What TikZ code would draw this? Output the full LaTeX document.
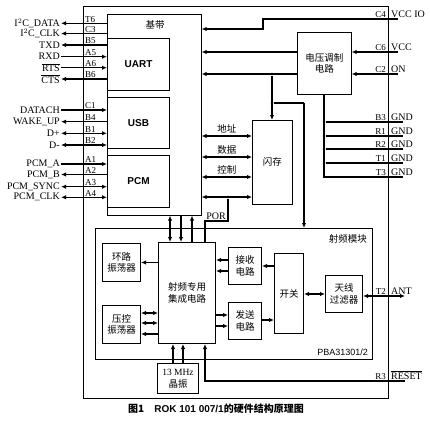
\documentclass[tikz,border=0pt]{standalone}
\usepackage{fontspec}
\setmainfont{Liberation Serif}
\setsansfont{Liberation Sans}
\newfontfamily\cjk{Noto Sans CJK SC}
\usetikzlibrary{arrows.meta}
\tikzset{
  blk/.style={draw,line width=1pt,inner sep=0pt},
  thinblk/.style={draw,line width=.6pt,inner sep=0pt},
  sig/.style={line width=1.1pt},
  pin/.style={font=\fontsize{9}{9}\selectfont,inner sep=1pt},
  lbl/.style={font=\fontsize{10}{10}\selectfont,inner sep=1pt},
  zh/.style={font=\cjk\fontsize{9.5}{11.5}\selectfont,align=center,inner sep=0pt},
  dot/.style={circle,fill,inner sep=0pt,minimum size=2.8pt},
  >={Latex[length=5pt,width=4.4pt]}
}
\newcommand{\ovl}[1]{$\overline{\mbox{#1}}$}
\begin{document}
\begin{tikzpicture}[x=1pt,y=-1pt]
\useasboundingbox (0,0) rectangle (430,420);
% outer module and baseband
\node[thinblk,minimum width=305pt,minimum height=392pt,anchor=north west] (mod) at (83,6) {};
\node[thinblk,minimum width=94pt,minimum height=201pt,anchor=north west] (bb) at (107,14) {};
\node[zh] (bbt) at (155,25) {基带};
\node[blk,minimum width=62pt,minimum height=52pt,anchor=north west,font=\sffamily\bfseries] (uart) at (107,38) {UART};
\node[blk,minimum width=62pt,minimum height=51pt,anchor=north west,font=\sffamily\bfseries] (usb) at (107,97) {USB};
\node[blk,minimum width=62pt,minimum height=52pt,anchor=north west,font=\sffamily\bfseries] (pcm) at (107,155) {PCM};
% left pins
\foreach \y/\nm/\pn/\dir/\i in {23.3/{I$^2$C\_DATA}/T6/<-/1, 33.5/{I$^2$C\_CLK}/C3/<-/2,
    45/TXD/B5/<-/3, 56.7/RXD/A5/->/4, 67.7/\ovl{RTS}/A6/->/5, 79/\ovl{CTS}/B6/<-/6,
    110/DATACH/C1/->/7, 121.7/WAKE\_UP/B4/<-/8, 133.3/D+/B1/<->/9, 145/D-/B2/<->/10,
    164/PCM\_A/A1/->/11, 174.5/PCM\_B/A2/<-/12, 186.7/PCM\_SYNC/A3/<->/13, 197.3/PCM\_CLK/A4/<->/14}{
  \node[lbl,anchor=east] (l\i) at (61,\y) {\nm};
  \node[pin,anchor=south west] (p\i) at (84,\y) {\pn};
  \draw[sig,\dir] (l\i.east) -- (bb.west |- l\i.east);
}
% voltage regulator
\node[thinblk,minimum width=54pt,minimum height=62pt,anchor=north west] (reg) at (297,32) {};
\node[zh] (regt) at (reg.center) {电压调制\\电路};
\coordinate (vccio) at (398,19);
\coordinate (vcc) at (398,52);
\coordinate (on) at (398,74);
\node[pin,anchor=south east] (pc4) at (387,19) {C4};
\node[lbl,anchor=south west] (lc4) at (390,19) {VCC IO};
\node[pin,anchor=south east] (pc6) at (387,52) {C6};
\node[lbl,anchor=south west] (lc6) at (390,52) {VCC};
\node[pin,anchor=south east] (pc2) at (387,74) {C2};
\node[lbl,anchor=south west] (lc2) at (390,74) {ON};
\draw[sig,<-] (bb.east |- 0,29) -| (263,19) -- (vccio);
\draw[sig,->] (vcc) -- (reg.east |- vcc);
\draw[sig,->] (on) -- (reg.east |- on);
\draw[sig,->] (reg.west |- vcc) -- (bb.east |- vcc);
\draw[sig,->] (reg.west |- on) -- (bb.east |- on);
% flash
\node[thinblk,minimum width=40pt,minimum height=84pt,anchor=north west] (fl) at (252,120) {};
\node[zh] (flt) at (fl.center) {闪存};
\node[dot] (d1) at (272,74) {};
\node[dot] (d2) at (272,103) {};
\draw[sig,->] (d1) -- (fl.north -| d1);
\draw[sig] (d2) -- (304,103) coordinate (rfp);
\foreach \y/\t in {136/地址, 157/数据, 177/控制, 197/{}}{
  \draw[sig,<->] (bb.east |- 0,\y) -- (fl.west |- 0,\y)
    node[zh,midway,above=2pt] {\t};
}
% ground
\coordinate (g0) at (324,94);
\foreach \y/\pn/\i in {122/B3/1, 136/R1/2, 149/R2/3, 163/T1/4, 177/T3/5}{
  \coordinate (gnd\i) at (403,\y);
  \node[pin,anchor=south east] (pg\i) at (387,\y) {\pn};
  \node[lbl,anchor=south west] (lg\i) at (390,\y) {GND};
}
\foreach \i/\y in {1/122,2/136,3/149,4/163}{
  \node[dot] (gd\i) at (324,\y) {};
  \draw[sig] (gd\i) -- (gnd\i);
}
\draw[sig] (g0) -- (324,177) -- (gnd5);
% RF module
\node[blk,line width=1.3pt,minimum width=277pt,minimum height=131pt,anchor=north west] (rf) at (95,228) {};
\node[zh,anchor=north east] (rft) at (367,234) {射频模块};
\node[font=\sffamily\fontsize{9}{9}\selectfont,anchor=south east,inner sep=0pt] (pba) at (368,356) {PBA31301/2};
\draw[sig,->] (rfp) -- (rf.north -| rfp);
\node[blk,minimum width=57pt,minimum height=101pt,anchor=north west] (asic) at (158,242) {};
\node[zh] (asict) at (asic.center) {射频专用\\集成电路};
\node[blk,minimum width=38pt,minimum height=38pt,anchor=north west] (lo) at (102,243) {};
\node[zh] (lot) at (lo.center) {环路\\振荡器};
\node[blk,minimum width=38pt,minimum height=38pt,anchor=north west] (vco) at (102,305) {};
\node[zh] (vcot) at (vco.center) {压控\\振荡器};
\node[blk,minimum width=33pt,minimum height=37pt,anchor=north west] (rx) at (228,247) {};
\node[zh] (rxt) at (rx.center) {接收\\电路};
\node[blk,minimum width=33pt,minimum height=37pt,anchor=north west] (tx) at (228,302) {};
\node[zh] (txt) at (tx.center) {发送\\电路};
\node[blk,minimum width=29pt,minimum height=80pt,anchor=north west] (sw) at (274,253) {};
\node[zh] (swt) at (sw.center) {开关};
\node[blk,minimum width=37pt,minimum height=37pt,anchor=north west] (flt2) at (325,275) {};
\node[zh] (filt) at (flt2.center) {天线\\过滤器};
\node[blk,minimum width=41pt,minimum height=30pt,anchor=north west] (xo) at (157,363) {};
\node[zh,font=\fontsize{9.5}{11.5}\selectfont] (xot) at (xo.center) {13 MHz\\\cjk 晶振};
% baseband to asic
\draw[sig,<->] (bb.south -| 170,0) -- (asic.north -| 170,0);
\draw[sig,->] (bb.south -| 181,0) -- (asic.north -| 181,0);
\draw[sig,<-] (bb.south -| 192,0) -- (asic.north -| 192,0);
% POR
\node[lbl,anchor=south] (por) at (216,221) {POR};
\node[dot] (d3) at (228,197) {};
\draw[sig] (d3) -- (228,221) -- (205,221) -- (asic.north -| 205,0);
% RF internals
\draw[sig,->] (asic.west |- lo) -- (lo.east);
\draw[sig,<->] (asic.west |- 0,313) -- (vco.east |- 0,313);
\draw[sig,<->] (asic.west |- 0,323) -- (vco.east |- 0,323);
\draw[sig,->] (asic.west |- 0,334) -- (vco.east |- 0,334);
\draw[sig,->] (rx.west |- 0,260) -- (asic.east |- 0,260);
\draw[sig,->] (rx.west |- 0,271) -- (asic.east |- 0,271);
\draw[sig,->] (asic.east |- 0,315) -- (tx.west |- 0,315);
\draw[sig,->] (asic.east |- 0,326) -- (tx.west |- 0,326);
\draw[sig,->] (sw.west |- 0,266) -- (rx.east |- 0,266);
\draw[sig,->] (tx.east |- 0,320) -- (sw.west |- 0,320);
\draw[sig,<->] (sw.east |- flt2) -- (flt2.west);
\coordinate (ant) at (405,296);
\node[pin,anchor=south east] (pt2) at (387,296) {T2};
\node[lbl,anchor=south west] (lt2) at (390,296) {ANT};
\draw[sig,<->] (flt2.east |- ant) -- (ant);
% crystal and reset
\draw[sig,->] (xo.north -| 173,0) -- (asic.south -| 173,0);
\draw[sig,->] (xo.north -| 183,0) -- (asic.south -| 183,0);
\coordinate (rst) at (405,381);
\node[pin,anchor=south east] (pr3) at (387,381) {R3};
\node[lbl,anchor=south west] (lr3) at (390,381) {\ovl{RESET}};
\draw[sig,->] (rst) -- (205,381) -- (asic.south -| 205,0);
% caption
\node[font=\cjk\bfseries\fontsize{10}{10}\selectfont,inner sep=0pt] (cap) at (216,409) {图1\quad {\sffamily ROK 101 007/1}的硬件结构原理图};
\end{tikzpicture}
\end{document}
